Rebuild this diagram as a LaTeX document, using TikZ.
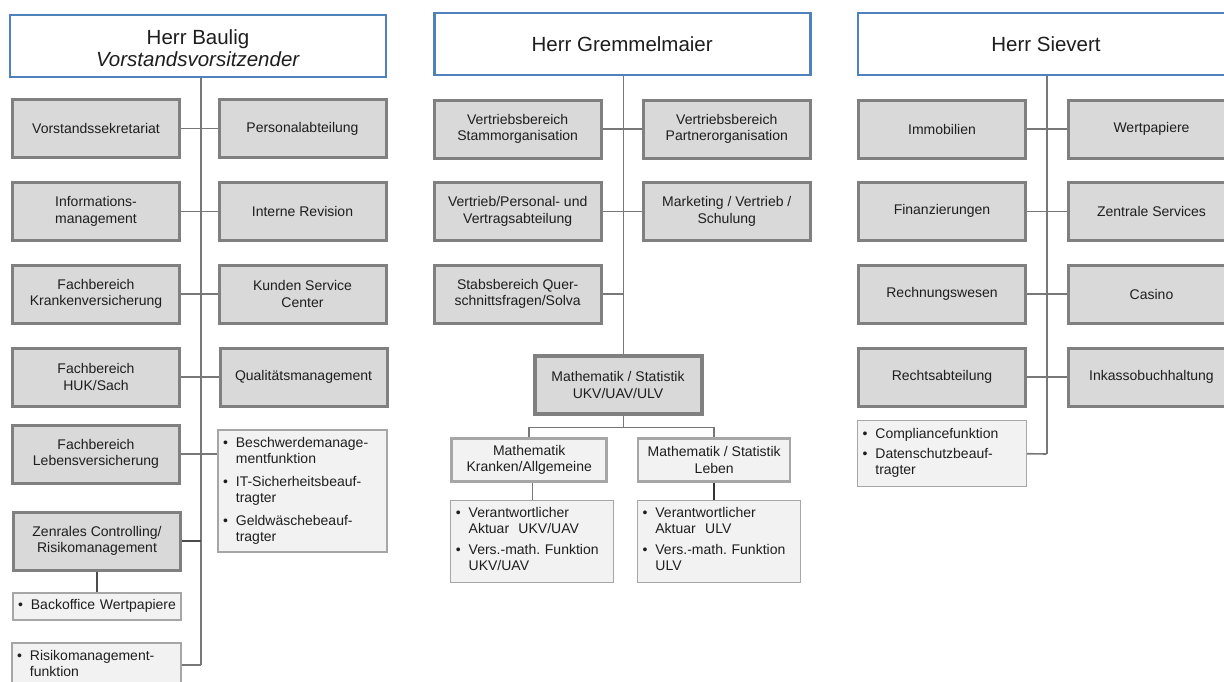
\documentclass[tikz,border=0pt]{standalone}
\usepackage{fontspec}
\setmainfont{Liberation Sans}
\definecolor{headblue}{RGB}{79,129,189}
\definecolor{gborder}{RGB}{128,128,128}
\definecolor{gfill}{RGB}{217,217,217}
\definecolor{lborder}{RGB}{166,166,166}
\definecolor{lfill}{RGB}{242,242,242}
\definecolor{txt}{RGB}{30,30,30}
\definecolor{conncol}{RGB}{120,120,120}
\tikzset{
  headbox/.style={draw=headblue, line width=2.6pt, fill=white, align=center, text=txt,
    font=\fontsize{20.5}{22}\selectfont, minimum width=376, minimum height=62, inner sep=0pt},
  gbox/.style={draw=gborder, line width=3pt, fill=gfill, align=center, text=txt,
    font=\fontsize{14}{16.7}\selectfont, minimum width=167, minimum height=58, inner sep=0pt},
  mbox/.style={gbox, line width=4pt},
  sbox/.style={draw=lborder, line width=2.5pt, fill=lfill, align=center, text=txt,
    font=\fontsize{14}{16.7}\selectfont, inner sep=0pt},
  lbox/.style={draw=lborder, line width=1.2pt, fill=lfill, align=left, text=txt,
    font=\fontsize{14}{16}\selectfont, inner xsep=5pt, inner ysep=0pt},
  conn/.style={draw=conncol, line width=1.6pt},
}
\newcommand{\bl}{\textbullet}
\begin{document}
\begin{tikzpicture}[x=1pt,y=-1pt]
\useasboundingbox (0,0) rectangle (1224,681);
\clip (0,0) rectangle (1224,681);
\fill[white] (0,0) rectangle (1224,681);

% ---------------- Column 1 ----------------
\coordinate (s1) at (201,665);
\node[headbox] (h1) at (198,46) {\rule{0pt}{19pt}Herr Baulig\\\textit{Vorstandsvorsitzender}};
\draw[conn] (s1 |- h1.south) -- (s1);
\node[gbox] (l11) at (96,128.5) {Vorstandssekretariat};
\node[gbox] (r11) at (302.5,128.5) {Personalabteilung};
\node[gbox] (l12) at (96,211.5) {Informations-\\management};
\node[gbox] (r12) at (302.5,211.5) {Interne Revision};
\node[gbox] (l13) at (96,294) {Fachbereich\\Krankenversicherung};
\node[gbox] (r13) at (302.5,294) {Kunden Service\\Center};
\node[gbox] (l14) at (96,377) {Fachbereich\\HUK/Sach};
\node[gbox] (r14) at (303.5,377) {Qualitätsmanagement};
\node[gbox] (l15) at (96,454) {Fachbereich\\Lebensversicherung};
\node[lbox, text width=159, minimum height=122] (b1) at (302.5,491) {%
\begin{tabular}{@{}l@{\hspace{8pt}}l@{}}
\bl & Beschwerdemanage-\\ & mentfunktion\\[7pt]
\bl & IT-Sicherheitsbeauf-\\ & tragter\\[7pt]
\bl & Geldwäschebeauf-\\ & tragter
\end{tabular}};
\node[gbox] (ctrl) at (97,541) {Zenrales Controlling/\\Risikomanagement};
\node[lbox, text width=158, minimum height=27] (back) at (97,606.5) {%
\begin{tabular}{@{}l@{\hspace{8pt}}l@{}}\bl & Backoffice Wertpapiere\end{tabular}};
\node[lbox, text width=159, minimum height=44] (risk) at (96.5,665) {%
\begin{tabular}{@{}l@{\hspace{8pt}}l@{}}\bl & Risikomanagement-\\ & funktion\end{tabular}};

\draw[conn] (l11.east) -- (r11.west);
\draw[conn] (l12.east) -- (r12.west);
\draw[conn] (l13.east) -- (r13.west);
\draw[conn] (l14.east) -- (r14.west);
\draw[conn] (l15.east) -- (l15.east -| b1.west);
\draw[conn, draw=black!70] (ctrl.east) -- (ctrl.east -| s1);
\draw[conn, draw=black!70] (ctrl.south) -- (back.north);
\draw[conn] (risk.east) -- (s1);

% ---------------- Column 2 ----------------
\coordinate (s2) at (623.3,427.3);
\node[headbox] (h2) at (622.2,44) {Herr Gremmelmaier};
\node[gbox] (l21) at (517.7,129) {Vertriebsbereich\\Stammorganisation};
\node[gbox] (r21) at (726.8,129) {Vertriebsbereich\\Partnerorganisation};
\node[gbox] (l22) at (517.7,211.3) {Vertrieb/Personal- und\\Vertragsabteilung};
\node[gbox] (r22) at (726.8,211.3) {Marketing / Vertrieb /\\Schulung};
\node[gbox] (l23) at (517.7,294) {Stabsbereich Quer-\\schnittsfragen/Solva};
\node[mbox] (math) at (618,385) {Mathematik / Statistik\\UKV/UAV/ULV};
\node[sbox, minimum width=155, minimum height=43] (kr) at (529.2,460) {Mathematik\\Kranken/Allgemeine};
\node[sbox, minimum width=152, minimum height=43] (le) at (714.2,460) {Mathematik / Statistik\\Leben};
\node[lbox, text width=153, minimum height=82] (bk) at (532.3,541.2) {%
\begin{tabular}{@{}l@{\hspace{8pt}}l@{}}
\bl & Verantwortlicher\\ & Aktuar~~UKV/UAV\\[5pt]
\bl & Vers.-math.\ Funktion\\ & UKV/UAV
\end{tabular}};
\node[lbox, text width=153, minimum height=82] (bll) at (719,541.2) {%
\begin{tabular}{@{}l@{\hspace{8pt}}l@{}}
\bl & Verantwortlicher\\ & Aktuar~~ULV\\[5pt]
\bl & Vers.-math.\ Funktion\\ & ULV
\end{tabular}};

\draw[conn] (s2 |- h2.south) -- (s2 |- math.north);
\draw[conn] (l21.east) -- (r21.west);
\draw[conn] (l22.east) -- (r22.west);
\draw[conn] (l23.east) -- (l23.east -| s2);
\draw[conn] (s2 |- math.south) -- (s2);
\draw[conn] (kr.north) |- (s2) -| (le.north);
\draw[conn] (kr.south -| bk.north) -- (bk.north);
\draw[conn, draw=black!80] (le.south) -- (le.south |- bll.north);

% ---------------- Column 3 ----------------
\coordinate (s3) at (1046.7,454);
\node[headbox] (h3) at (1046,44) {Herr Sievert};
\draw[conn] (s3 |- h3.south) -- (s3);
\node[gbox] (l31) at (942,129) {Immobilien};
\node[gbox] (r31) at (1151.5,129) {Wertpapiere};
\node[gbox] (l32) at (942,211.3) {Finanzierungen};
\node[gbox] (r32) at (1151.5,211.3) {Zentrale Services};
\node[gbox] (l33) at (942,294) {Rechnungswesen};
\node[gbox] (r33) at (1151.5,294) {Casino};
\node[gbox] (l34) at (942,377) {Rechtsabteilung};
\node[gbox] (r34) at (1151.5,377) {Inkassobuchhaltung};
\node[lbox, text width=159, minimum height=66] (bx3) at (942,453.7) {%
\begin{tabular}{@{}l@{\hspace{8pt}}l@{}}
\bl & Compliancefunktion\\[4pt]
\bl & Datenschutzbeauf-\\ & tragter
\end{tabular}};
\draw[conn] (l31.east) -- (r31.west);
\draw[conn] (l32.east) -- (r32.west);
\draw[conn] (l33.east) -- (r33.west);
\draw[conn] (l34.east) -- (r34.west);
\draw[conn] (bx3.east) -- (s3);
\end{tikzpicture}
\end{document}
